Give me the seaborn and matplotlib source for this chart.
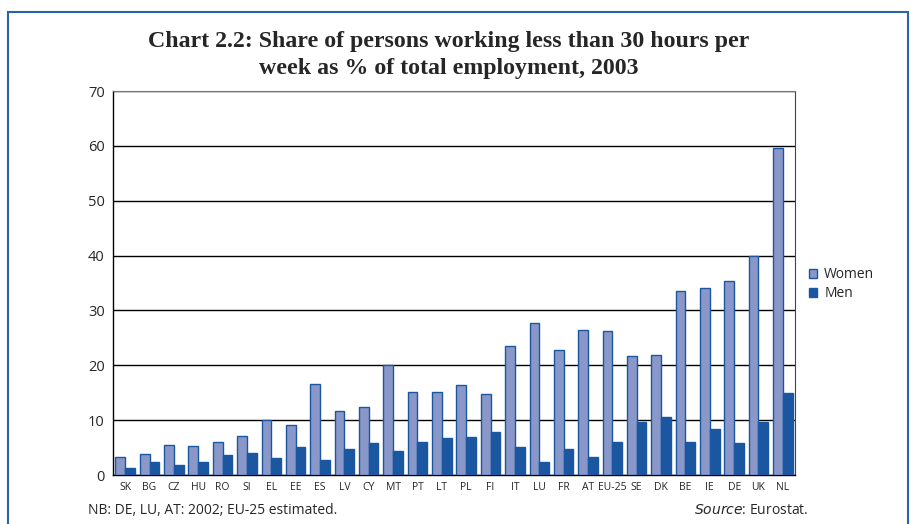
import numpy as np
import pandas as pd
import matplotlib
matplotlib.use("Agg")
import matplotlib.pyplot as plt
import seaborn as sns
from matplotlib.patches import Rectangle

countries = ["SK", "BG", "CZ", "HU", "RO", "SI", "EL", "EE", "ES", "LV", "CY", "MT", "PT",
             "LT", "PL", "FI", "IT", "LU", "FR", "AT", "EU-25", "SE", "DK", "BE", "IE", "DE", "UK", "NL"]
women = [3.3, 3.8, 5.5, 5.3, 6.1, 7.1, 10.1, 9.2, 16.5, 11.6, 12.4, 20.0, 15.1,
         15.2, 16.4, 14.8, 23.6, 27.8, 22.8, 26.4, 26.2, 21.7, 21.9, 33.6, 34.1, 35.3, 40.0, 59.6]
men = [1.3, 2.4, 1.8, 2.3, 3.6, 4.0, 3.1, 5.1, 2.7, 4.8, 5.8, 4.4, 6.1,
       6.7, 6.9, 7.9, 5.1, 2.4, 4.8, 3.2, 6.0, 9.6, 10.5, 6.0, 8.4, 5.8, 9.7, 15.0]

df = pd.DataFrame({"country": countries * 2,
                   "value": women + men,
                   "sex": ["Women"] * len(countries) + ["Men"] * len(countries)})

sns.set_style("white")
plt.rcParams['font.family'] = ['Open Sans', 'DejaVu Sans']

light = "#8a98c9"
dark = "#1b57a1"

fig = plt.figure(figsize=(9.11, 5.24), dpi=100)
ax = fig.add_axes([0.124, 0.0935, 0.7487, 0.7328])

sns.barplot(data=df, x="country", y="value", hue="sex", palette=[light, dark],
            width=0.8, saturation=1, edgecolor=dark, linewidth=1.0, ax=ax, zorder=3)

ax.set_ylim(0, 70)
ax.set_xlim(-0.5, len(countries) - 0.5)
ax.set_yticks(np.arange(0, 71, 10))
ax.yaxis.grid(True, color="black", linewidth=1.0, zorder=0)
ax.set_axisbelow(True)
ax.set_xlabel("")
ax.set_ylabel("")

# labels at centres, tick marks between groups
ax.tick_params(axis="x", which="major", length=0, pad=5, labelsize=7.5)
ax.set_xticks(np.arange(len(countries) + 1) - 0.5, minor=True)
ax.tick_params(axis="x", which="minor", length=4, width=1, color="black", direction="out")
ax.tick_params(axis="y", length=4, width=1, color="black", direction="out", labelsize=10.5, pad=2)

for side in ["left", "bottom"]:
    ax.spines[side].set_color("black")
    ax.spines[side].set_linewidth(1.0)
ax.spines["top"].set_color("#777777")
ax.spines["right"].set_color("#444444")

ax.legend(loc="center left", bbox_to_anchor=(1.0, 0.497), frameon=False,
          fontsize=10, handlelength=0.6, handleheight=0.6, handletextpad=0.5,
          labelspacing=0.3, borderaxespad=0.6)

fig.text(0.493, 1 - 55 / 524, "Chart 2.2: Share of persons working less than 30 hours per\nweek as % of total employment, 2003",
         ha="center", va="center", fontsize=17.2, fontweight="bold",
         family=["Liberation Serif", "DejaVu Serif"], linespacing=1.35)

fig.text(88 / 911, 1 - 511 / 524, "NB: DE, LU, AT: 2002; EU-25 estimated.",
         ha="left", va="center", fontsize=10)
fig.text(808 / 911, 1 - 511 / 524, r"$\it{Source}$: Eurostat.",
         ha="right", va="center", fontsize=10)

fig.patches.append(Rectangle((8 / 911, -0.1), 900 / 911, 1.1 - 12 / 524,
                             transform=fig.transFigure, fill=False,
                             edgecolor="#2a62b0", linewidth=1.5))

fig.savefig("out.png", dpi=100)
